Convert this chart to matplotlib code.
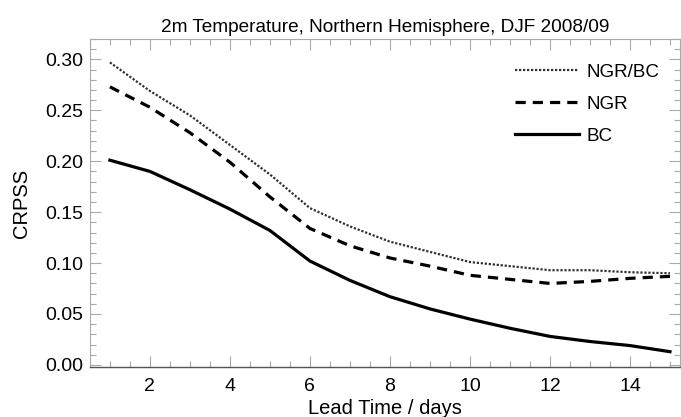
import matplotlib
matplotlib.use('Agg')
import matplotlib.pyplot as plt
from matplotlib.ticker import MultipleLocator

plt.rcParams['font.family'] = ['Liberation Sans', 'DejaVu Sans']

# lead times (days) and CRPSS values
lead_days = [1, 2, 3, 4, 5, 6, 7, 8, 9, 10, 11, 12, 13, 14, 15]
ngr_bc = [0.297, 0.269, 0.245, 0.216, 0.187, 0.154, 0.136, 0.121, 0.111,
          0.101, 0.097, 0.093, 0.093, 0.091, 0.090]
ngr = [0.273, 0.253, 0.228, 0.199, 0.165, 0.134, 0.117, 0.105, 0.097,
       0.088, 0.084, 0.080, 0.082, 0.085, 0.087]
bc = [0.201, 0.190, 0.172, 0.153, 0.132, 0.102, 0.083, 0.067, 0.055,
      0.045, 0.036, 0.028, 0.023, 0.019, 0.013]

title = '2m Temperature, Northern Hemisphere, DJF 2008/09'


def main():
    fig = plt.figure(figsize=(6.81, 4.17), dpi=100)
    ax = fig.add_axes([0.132, 0.12, 0.8665, 0.7865])

    ax.plot(lead_days, ngr_bc, color='#303030', lw=1.6, linestyle=(0, (1, 0.8)),
            label='NGR/BC')
    ax.plot(lead_days, ngr, color='black', lw=2.3, linestyle=(0, (3.2, 2.2)),
            label='NGR')
    ax.plot(lead_days, bc, color='black', lw=2.3, label='BC')

    ax.set_xlim(0.5, 15.25)
    ax.set_ylim(-0.002, 0.32)
    ax.xaxis.set_major_locator(MultipleLocator(2))
    ax.xaxis.set_minor_locator(MultipleLocator(0.5))
    ax.yaxis.set_major_locator(MultipleLocator(0.05))
    ax.yaxis.set_minor_locator(MultipleLocator(0.01))
    ax.yaxis.set_major_formatter(plt.FormatStrFormatter('%.2f'))

    ax.tick_params(which='both', direction='in', top=True, right=True,
                   color='#aaaaaa', labelsize=14, labelcolor='black')
    ax.tick_params(which='major', length=8, width=0.8)
    ax.tick_params(which='minor', length=4, width=0.8)
    ax.tick_params(axis='x', which='major', pad=8)
    ax.tick_params(axis='y', which='major', pad=5)

    for side in ['top', 'right', 'left']:
        ax.spines[side].set_color('#aaaaaa')
        ax.spines[side].set_linewidth(0.8)
    ax.spines['bottom'].set_color('#555555')
    ax.spines['bottom'].set_linewidth(1.0)

    ax.set_title(title, fontsize=13.7, pad=5)
    ax.set_xlabel('Lead Time / days', fontsize=14.5, labelpad=3)
    ax.set_ylabel('CRPSS', fontsize=14.5, labelpad=10)

    ax.legend(loc='upper left', bbox_to_anchor=(0.72, 0.925), frameon=False,
              fontsize=13.5, handlelength=3.4, handletextpad=0.43,
              labelspacing=0.8, borderpad=0, borderaxespad=0)

    fig.savefig('out.png', dpi=100)


if __name__ == '__main__':
    main()
